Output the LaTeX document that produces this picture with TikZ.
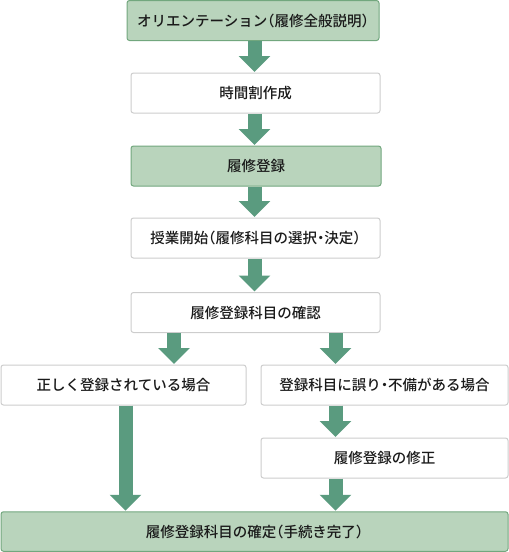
\documentclass[tikz,border=0pt]{standalone}
\usepackage{fontspec}
\setmainfont{Noto Sans CJK JP}[UprightFont={* Medium}, RawFeature={+halt}]
\usetikzlibrary{arrows.meta,calc}
\definecolor{gfill}{HTML}{B9D4BC}
\definecolor{gline}{HTML}{72A77E}
\definecolor{arrowc}{HTML}{5A9B7F}
\definecolor{wline}{HTML}{CDCDCD}
\definecolor{txt}{HTML}{1A1A1A}
\tikzset{
  box/.style={draw=wline, line width=1pt, fill=white, rounded corners=2.5pt, inner sep=0pt,
    minimum height=40pt, text=txt, font=\fontsize{14.5pt}{17pt}\selectfont},
  gbox/.style={box, draw=gline, fill=gfill},
  blockarrow/.style={draw=arrowc, line width=14pt, line cap=butt,
    -{Triangle[width=31pt,length=16pt]}}
}
\begin{document}
\begin{tikzpicture}[x=1pt,y=1pt]
\useasboundingbox (0,0) rectangle (509,-552);
\node[gbox, minimum width=252pt] (b1) at (253,-20.5) {オリエンテーション（履修全般説明）};
\node[box, minimum width=249pt] (b2) at (255.5,-93) {時間割作成};
\node[gbox, minimum width=250pt] (b3) at (256,-166) {履修登録};
\node[box, minimum width=249pt] (b4) at (255.5,-238) {授業開始（履修科目の選択・決定）};
\node[box, minimum width=249pt] (b5) at (255.5,-312.5) {履修登録科目の確認};
\node[box, minimum width=245pt] (L) at (123.5,-385) {正しく登録されている場合};
\node[box, minimum width=247pt] (R) at (384.5,-385) {登録科目に誤り・不備がある場合};
\node[box, minimum width=247pt] (R2) at (384.5,-458) {履修登録の修正};
\node[gbox, minimum width=507pt, minimum height=39.5pt] (F) at (254.5,-531.5) {履修登録科目の確定（手続き完了）};
\coordinate (ax) at (254.5,0);
\coordinate (lx) at (174,0);
\coordinate (rx) at (335.5,0);
\coordinate (llx) at (125.5,0);
\draw[blockarrow] (b1.south -| ax) -- ($(b2.north -| ax)+(0,0.5)$);
\draw[blockarrow] (b2.south -| ax) -- ($(b3.north -| ax)+(0,0.5)$);
\draw[blockarrow] (b3.south -| ax) -- ($(b4.north -| ax)+(0,0.5)$);
\draw[blockarrow] (b4.south -| ax) -- ($(b5.north -| ax)+(0,0.5)$);
\draw[blockarrow] (b5.south -| lx) -- ($(L.north -| lx)+(0,0.5)$);
\draw[blockarrow] (b5.south -| rx) -- ($(R.north -| rx)+(0,0.5)$);
\draw[blockarrow] (R.south -| rx) -- ($(R2.north -| rx)+(0,0.5)$);
\draw[blockarrow] (R2.south -| rx) -- ($(F.north -| rx)+(0,0.5)$);
\draw[blockarrow] (L.south -| llx) -- ($(F.north -| llx)+(0,0.5)$);
\end{tikzpicture}
\end{document}
